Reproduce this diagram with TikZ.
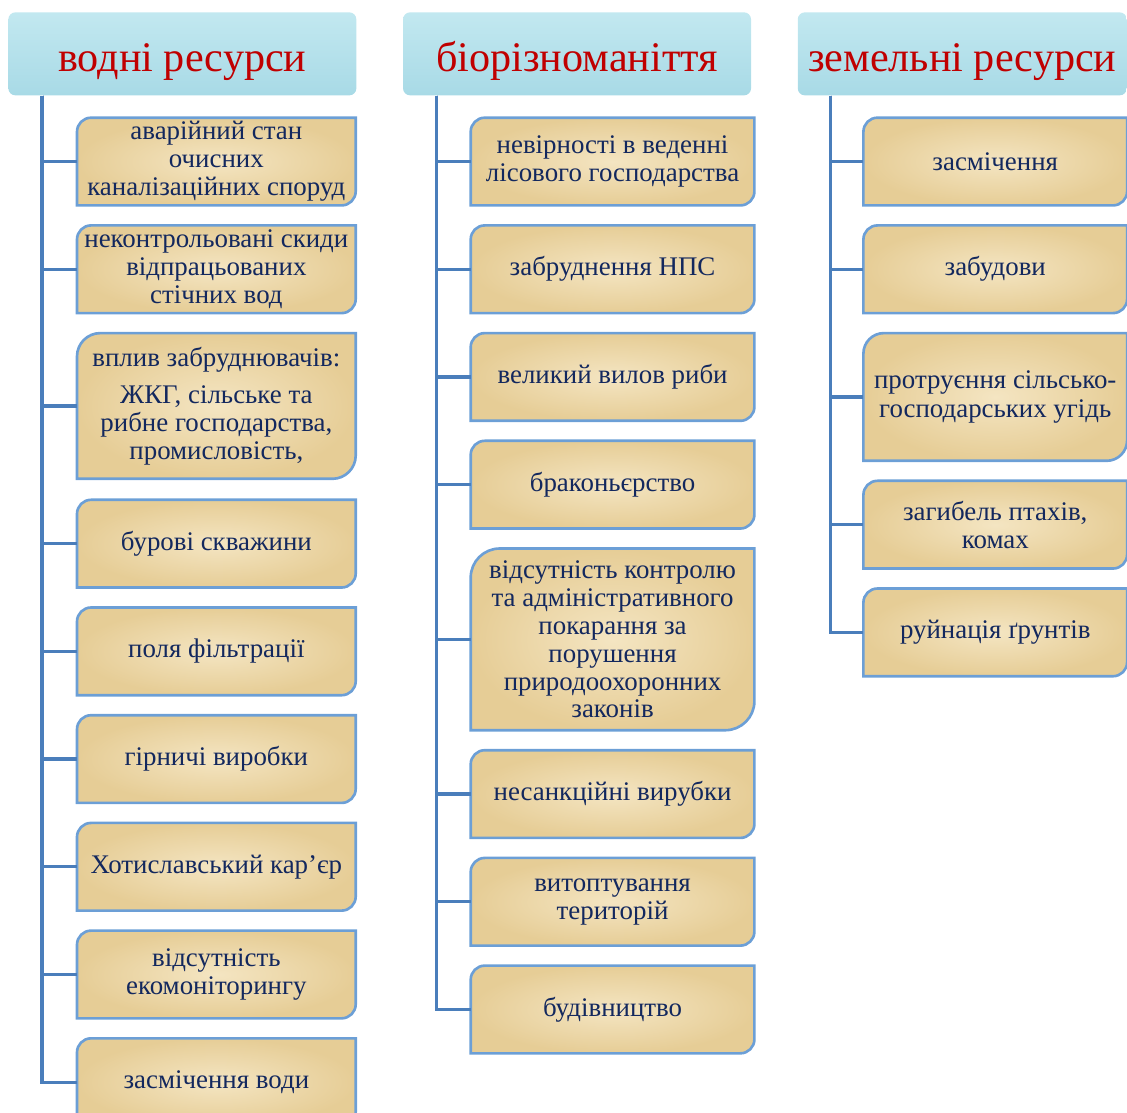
\documentclass[tikz,border=0pt]{standalone}
\usepackage{fontspec}
\setmainfont{Liberation Serif}
\usetikzlibrary{positioning,calc,backgrounds}

\definecolor{trunkblue}{HTML}{4A7EBB}
\definecolor{borderblue}{HTML}{6C9FD6}
\definecolor{paper}{HTML}{E6CD96}
\definecolor{paperlight}{HTML}{F4E5C2}
\definecolor{inkblue}{HTML}{13285E}
\definecolor{headtop}{HTML}{C2E8F0}
\definecolor{headbot}{HTML}{A8DAE6}
\definecolor{headred}{HTML}{C00000}

\begin{document}
\begin{tikzpicture}
 [head node/.style={minimum width=6.96cm, minimum height=1.66cm, inner sep=0pt, rounded corners=4pt,
    text height=26pt, text depth=6pt,
    top color=headtop, bottom color=headbot, text=headred, font=\fontsize{24}{28}\selectfont},
  cause node/.style={minimum height=1.74cm, inner sep=0pt, align=center, text=inkblue,
    font=\fontsize{15.3}{15.9}\selectfont},
  col a/.style={cause node, minimum width=5.56cm},
  col b/.style={cause node, minimum width=5.66cm},
  col c/.style={cause node, minimum width=5.26cm},
  trunk/.style={draw=trunkblue, line width=1.9pt},
  paper box/.style={draw=borderblue, line width=1.5pt, inner color=paperlight, outer color=paper}]

\useasboundingbox (0,0) rectangle (22.54,-22.26);

% headers
\node[head node, anchor=north west] (h1) at (0.16,-0.24) {водні ресурси};
\node[head node] (h2) [right=0.92cm of h1] {біорізноманіття};
\node[head node, minimum width=6.58cm] (h3) [right=0.92cm of h2] {земельні ресурси};

% water
\node[col a, anchor=north west] (a1) at ([xshift=1.38cm,yshift=-0.44cm]h1.south west)
  {аварійний стан\\очисних\\каналізаційних споруд};
\node[col a] (a2) [below=0.4cm of a1] {неконтрольовані скиди\\відпрацьованих\\стічних вод};
\node[col a, minimum height=2.9cm] (a3) [below=0.4cm of a2]
  {вплив забруднювачів:\\[5pt]ЖКГ, сільське та\\рибне господарства,\\промисловість,};
\node[col a] (a4) [below=0.42cm of a3] {бурові скважини};
\node[col a] (a5) [below=0.4cm of a4] {поля фільтрації};
\node[col a] (a6) [below=0.4cm of a5] {гірничі виробки};
\node[col a] (a7) [below=0.4cm of a6] {Хотиславський кар’єр};
\node[col a] (a8) [below=0.4cm of a7] {відсутність\\екомоніторингу};
\node[col a] (a9) [below=0.4cm of a8] {засмічення води};

% biodiversity
\node[col b, anchor=north west] (b1) at ([xshift=1.36cm,yshift=-0.44cm]h2.south west)
  {невірності в веденні\\лісового господарства};
\node[col b] (b2) [below=0.4cm of b1] {забруднення НПС};
\node[col b] (b3) [below=0.4cm of b2] {великий вилов риби};
\node[col b] (b4) [below=0.4cm of b3] {браконьєрство};
\node[col b, minimum height=3.62cm] (b5) [below=0.4cm of b4]
  {відсутність контролю\\та адміністративного\\покарання за\\порушення\\природоохоронних\\законів};
\node[col b] (b6) [below=0.4cm of b5] {несанкційні вирубки};
\node[col b] (b7) [below=0.4cm of b6] {витоптування\\територій};
\node[col b] (b8) [below=0.4cm of b7] {будівництво};

% land
\node[col c, anchor=north west] (c1) at ([xshift=1.32cm,yshift=-0.44cm]h3.south west) {засмічення};
\node[col c] (c2) [below=0.4cm of c1] {забудови};
\node[col c, minimum height=2.54cm] (c3) [below=0.4cm of c2] {протруєння сільсько-\\[1pt]господарських угідь};
\node[col c] (c4) [below=0.4cm of c3] {загибель птахів,\\комах};
\node[col c] (c5) [below=0.4cm of c4] {руйнація ґрунтів};

\begin{scope}[on background layer]
\foreach \b in {a1,a2,a3,a4,a5,a6,a7,a8,a9,b1,b2,b3,b4,b5,b6,b7,b8,c1,c2,c3,c4,c5}
  \path[paper box] let \p1=(\b.north west), \p2=(\b.south east), \n1={0.16*(\y1-\y2)} in
    (\x1,\y2) -- ({\x1},{\y1-\n1*1pt}) arc[start angle=180, end angle=90, radius=\n1*1pt]
    -- (\x2,\y1) -- ({\x2},{\y2+\n1*1pt}) arc[start angle=0, end angle=-90, radius=\n1*1pt] -- cycle;
\end{scope}

\foreach \b in {a1,a2,a3,a4,a5,a6,a7,a8,a9}
  \draw[trunk] ([xshift=0.68cm]h1.south west) |- (\b.west);
\foreach \b in {b1,b2,b3,b4,b5,b6,b7,b8}
  \draw[trunk] ([xshift=0.68cm]h2.south west) |- (\b.west);
\foreach \b in {c1,c2,c3,c4,c5}
  \draw[trunk] ([xshift=0.66cm]h3.south west) |- (\b.west);

\end{tikzpicture}
\end{document}
